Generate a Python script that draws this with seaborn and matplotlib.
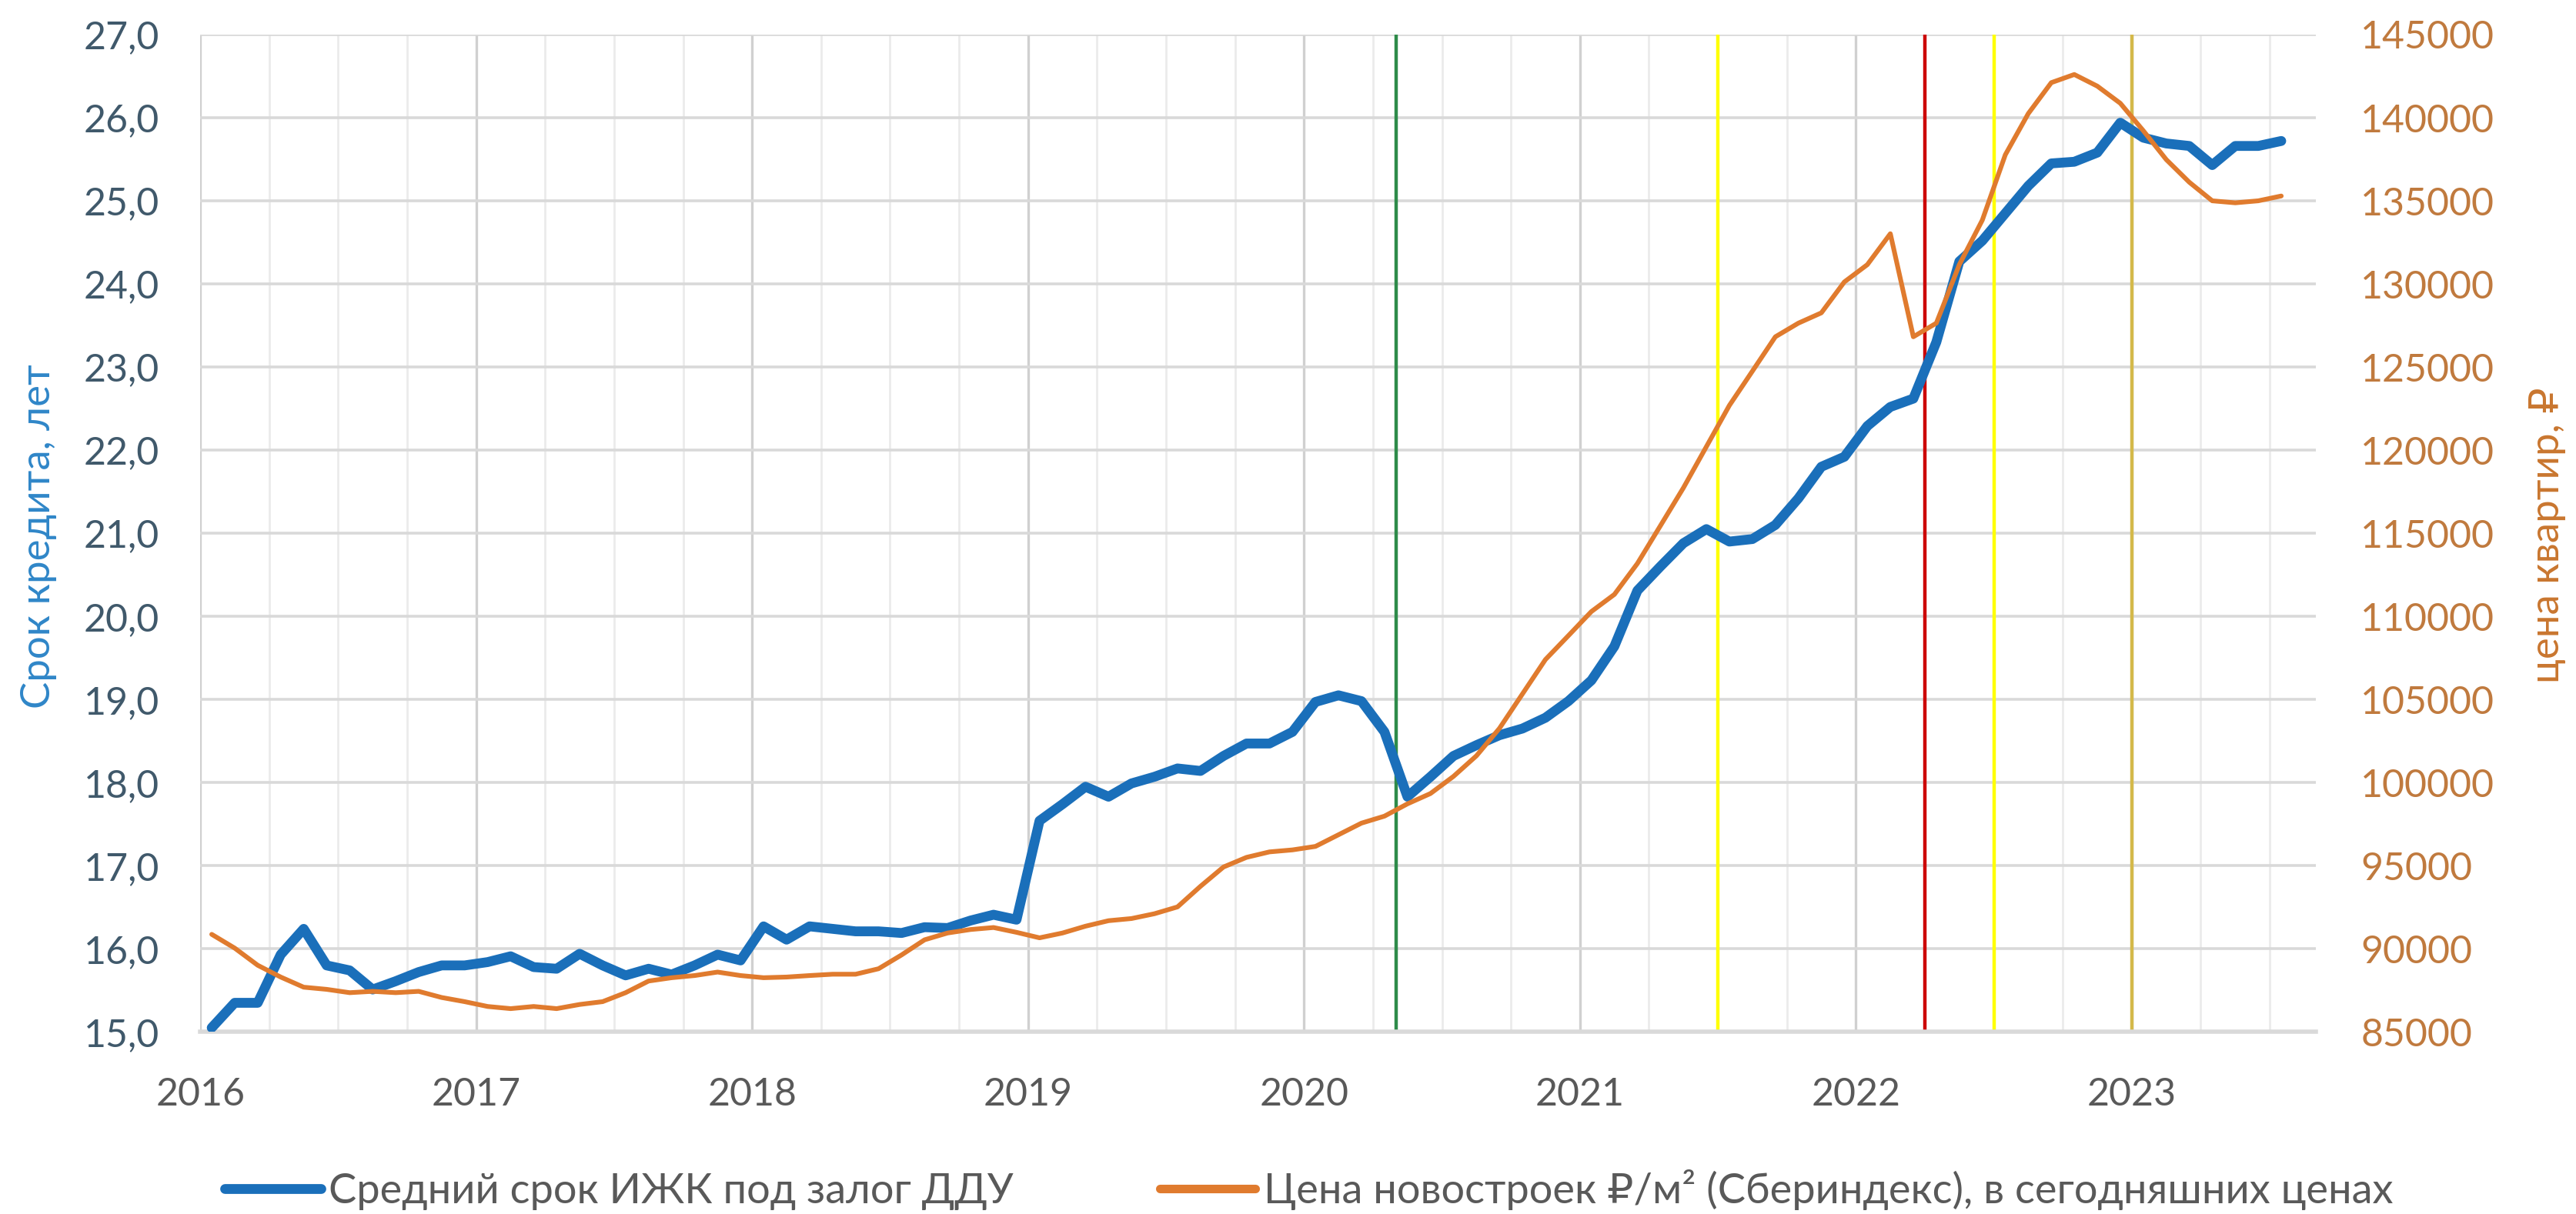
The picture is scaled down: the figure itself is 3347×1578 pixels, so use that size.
import matplotlib
matplotlib.use('Agg')
import matplotlib.pyplot as plt
import matplotlib.ticker as mticker
from matplotlib.lines import Line2D
import seaborn as sns
import numpy as np
import pandas as pd

# monthly data, Jan 2016 .. Jul 2023
months = pd.period_range('2016-01', '2023-07', freq='M')

# average mortgage term under DDU collateral, years
loan_term = [
    15.05, 15.35, 15.35, 15.93, 16.24, 15.80, 15.74, 15.51, 15.61, 15.72, 15.80, 15.80,  # 2016
    15.84, 15.91, 15.78, 15.76, 15.94, 15.80, 15.68, 15.76, 15.69, 15.80, 15.93, 15.86,  # 2017
    16.27, 16.11, 16.27, 16.24, 16.21, 16.21, 16.19, 16.26, 16.25, 16.34, 16.41, 16.35,  # 2018
    17.54, 17.74, 17.95, 17.83, 17.99, 18.07, 18.17, 18.14, 18.32, 18.47, 18.47, 18.61,  # 2019
    18.97, 19.05, 18.98, 18.61, 17.83, 18.07, 18.32, 18.45, 18.57, 18.65, 18.78, 18.98,  # 2020
    19.23, 19.64, 20.31, 20.60, 20.88, 21.05, 20.90, 20.93, 21.10, 21.42, 21.80, 21.92,  # 2021
    22.29, 22.52, 22.62, 23.30, 24.27, 24.52, 24.85, 25.18, 25.45, 25.47, 25.58, 25.94,  # 2022
    25.76, 25.69, 25.66, 25.43, 25.66, 25.66, 25.72,                                      # 2023
]

# new-build price per m2 (Sberindex), in today's prices
price = [
    90870, 90040, 89010, 88300, 87690, 87560, 87360, 87440, 87360, 87440, 87070, 86820,
    86530, 86400, 86530, 86400, 86650, 86820, 87360, 88060, 88260, 88390, 88600, 88390,
    88260, 88300, 88390, 88470, 88470, 88800, 89630, 90540, 90950, 91160, 91280, 90990,
    90660, 90950, 91360, 91690, 91820, 92110, 92520, 93760, 94920, 95500, 95830, 95950,
    96160, 96860, 97560, 97980, 98720, 99340, 100370, 101610, 103260, 105330, 107400, 108840,
    110290, 111320, 113180, 115450, 117730, 120210, 122690, 124750, 126820, 127640, 128260, 130120,
    131160, 133020, 126820, 127640, 131160, 133840, 137770, 140250, 142110, 142600, 141900, 140870,
    139220, 137480, 136120, 135000, 134880, 135000, 135290,
]

years = list(range(2016, 2024))
event_months = ['2020-05', '2021-07', '2022-04', '2022-07', '2023-01']
event_colors = ['#2e8b4a', '#ffff00', '#cc0000', '#ffff00', '#d4b94a']

term_label = 'Средний срок ИЖК под залог ДДУ'
price_label = 'Цена новостроек ₽/м² (Сбериндекс), в сегодняшних ценах'

blue = '#1a6fba'
orange = '#e07b2e'

sns.set_theme(style='white')
plt.rcParams['font.family'] = ['Lato', 'Open Sans', 'DejaVu Sans']


def month_pos(p):
    # excel date axis: each month is a bucket, point in the middle
    return (p.year - 2016) * 12 + (p.month - 1)


df = pd.DataFrame({
    'x': [month_pos(p) + 0.5 for p in months],
    'term': loan_term,
    'price': price,
})

fig = plt.figure(figsize=(16.74, 7.89), dpi=200)
ax = fig.add_axes([0.0777, 0.150, 0.8210, 0.8215])
ax2 = ax.twinx()
ax.set_axisbelow(True)

for m, c in zip(event_months, event_colors):
    ax.axvline(month_pos(pd.Period(m, freq='M')), color=c, lw=1.6, zorder=1.5)

sns.lineplot(data=df, x='x', y='term', ax=ax, color=blue, lw=4.6, legend=False,
             solid_capstyle='round', solid_joinstyle='round', zorder=3)
sns.lineplot(data=df, x='x', y='price', ax=ax2, color=orange, lw=2.2, legend=False,
             solid_capstyle='round', solid_joinstyle='round')

# x axis
ax.set_xlim(0, 92)
ax.set_xticks([12 * (y - 2016) for y in years])
ax.set_xticklabels([str(y) for y in years])
ax.set_xticks(range(0, 92, 3), minor=True)
ax.grid(True, which='major', axis='x', color='#d0d0d0', lw=1.2)
ax.grid(True, which='minor', axis='x', color='#ebebeb', lw=1.0)

# left axis
ax.set_ylim(15, 27)
ax.set_yticks(range(15, 28))
ax.yaxis.set_major_formatter(mticker.FuncFormatter(lambda v, _: f'{v:.1f}'.replace('.', ',')))
ax.grid(True, which='major', axis='y', color='#d9d9d9', lw=1.3)

# right axis
ax2.set_ylim(85000, 145000)
ax2.set_yticks(range(85000, 145001, 5000))
ax2.yaxis.set_major_formatter(mticker.FuncFormatter(lambda v, _: f'{int(v)}'))
ax2.grid(False)

ax.set_xlabel('')
ax.set_ylabel('')
ax2.set_ylabel('')

ax.tick_params(axis='x', which='both', length=0, pad=21, labelsize=18, labelcolor='#595959')
ax.tick_params(axis='y', length=0, pad=19, labelsize=18, labelcolor='#40596b')
ax2.tick_params(axis='y', length=0, pad=21, labelsize=18, labelcolor='#c07a3e')

for s in ax.spines.values():
    s.set_visible(False)
for s in ax2.spines.values():
    s.set_visible(False)
ax.spines['bottom'].set_visible(True)
ax.spines['bottom'].set_color('#d9d9d9')
ax.spines['bottom'].set_linewidth(2.0)

fig.text(0.015, 0.558, 'Срок кредита, лет', rotation=90, ha='center', va='center',
         fontsize=19, color='#2f86c8')
fig.text(0.9886, 0.559, 'цена квартир, ₽', rotation=90, ha='center', va='center',
         fontsize=19, color='#c9762f')

handles = [Line2D([], [], color=blue, lw=4.6, solid_capstyle='round'),
           Line2D([], [], color=orange, lw=4.0, solid_capstyle='round')]
leg = fig.legend(handles, [term_label, price_label], loc='center',
                 bbox_to_anchor=(0.508, 0.02), ncol=2, frameon=False, fontsize=19.5,
                 handlelength=2.3, handletextpad=0.2, columnspacing=3.5)
for t in leg.get_texts():
    t.set_color('#595959')

fig.savefig('out.png', dpi=200)
